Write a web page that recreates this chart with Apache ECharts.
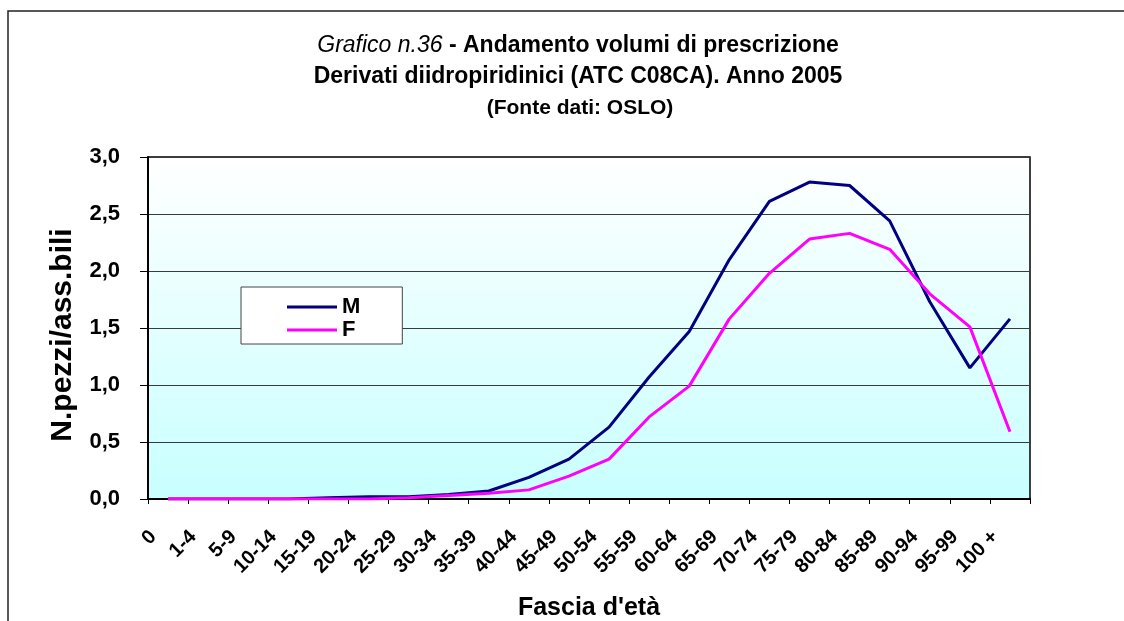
<!DOCTYPE html>
<html>
<head>
<meta charset="utf-8">
<script src="https://cdn.jsdelivr.net/npm/echarts@6/dist/echarts.min.js"></script>
<style>
  html, body { margin: 0; padding: 0; background: #fff; }
  #chart { width: 1124px; height: 621px; }
</style>
</head>
<body>
<div id="chart"></div>
<script>
// Age bands on the x axis
const ageBands = ['0', '1-4', '5-9', '10-14', '15-19', '20-24', '25-29', '30-34', '35-39',
  '40-44', '45-49', '50-54', '55-59', '60-64', '65-69', '70-74', '75-79', '80-84',
  '85-89', '90-94', '95-99', '100 +'];

// Prescription volumes (pieces per assisted person), males and females
const maleValues = [0.00, 0.00, 0.00, 0.00, 0.01, 0.02, 0.02, 0.04, 0.07,
  0.19, 0.35, 0.63, 1.07, 1.47, 2.10, 2.61, 2.78, 2.75, 2.44, 1.73, 1.15, 1.58];
const femaleValues = [0.00, 0.00, 0.00, 0.00, 0.00, 0.00, 0.01, 0.03, 0.05,
  0.08, 0.20, 0.35, 0.72, 0.99, 1.58, 1.98, 2.28, 2.33, 2.19, 1.80, 1.51, 0.59];

const seriesNames = ['M', 'F'];

const chart = echarts.init(document.getElementById('chart'));
const fontFamily = '"Liberation Sans", Arial, sans-serif';
const titleX = 578;

chart.setOption({
  animation: false,
  backgroundColor: '#ffffff',
  textStyle: { fontFamily: fontFamily },
  graphic: [
    {
      // outer frame of the chart sheet
      type: 'rect',
      shape: { x: 8, y: 11, width: 1130, height: 630 },
      style: { fill: 'none', stroke: '#222', lineWidth: 1.5 },
      silent: true
    },
    {
      // three-line chart heading
      type: 'text',
      x: titleX,
      y: 46,
      silent: true,
      style: {
        text: '{it|Grafico n.36}{b| - Andamento volumi di prescrizione}',
        align: 'center',
        verticalAlign: 'middle',
        rich: {
          it: { fontFamily: fontFamily, fontSize: 23, fontStyle: 'italic', fontWeight: 'normal', fill: '#000' },
          b: { fontFamily: fontFamily, fontSize: 23, fontWeight: 'bold', fill: '#000' }
        }
      }
    },
    {
      type: 'text',
      x: titleX,
      y: 77,
      silent: true,
      style: {
        text: 'Derivati diidropiridinici (ATC C08CA). Anno 2005',
        align: 'center',
        verticalAlign: 'middle',
        font: 'bold 23px ' + fontFamily,
        fill: '#000'
      }
    },
    {
      type: 'text',
      x: titleX + 2,
      y: 108,
      silent: true,
      style: {
        text: '(Fonte dati: OSLO)',
        align: 'center',
        verticalAlign: 'middle',
        font: 'bold 21px ' + fontFamily,
        fill: '#000'
      }
    }
  ],
  legend: {
    data: seriesNames,
    orient: 'vertical',
    left: 241,
    top: 287,
    backgroundColor: '#ffffff',
    borderColor: '#444',
    borderWidth: 1,
    padding: [9, 42, 3, 46],
    itemGap: 1,
    itemWidth: 50,
    itemHeight: 3,
    icon: 'rect',
    textStyle: { fontFamily: fontFamily, fontSize: 22, fontWeight: 'bold', color: '#000', lineHeight: 22 }
  },
  grid: {
    left: 148,
    right: 94,
    top: 157,
    bottom: 122,
    outerBoundsMode: 'none',
    containLabel: false,
    show: true,
    borderColor: '#000',
    borderWidth: 1.5,
    backgroundColor: {
      type: 'linear', x: 0, y: 0, x2: 0, y2: 1,
      colorStops: [
        { offset: 0, color: '#ffffff' },
        { offset: 1, color: '#c8ffff' }
      ]
    }
  },
  xAxis: {
    type: 'category',
    data: ageBands,
    boundaryGap: true,
    name: "Fascia d'età",
    nameLocation: 'middle',
    nameGap: 97,
    nameTextStyle: { fontFamily: fontFamily, fontSize: 25, fontWeight: 'bold', color: '#000' },
    axisLine: { show: true, lineStyle: { color: '#000', width: 2 } },
    axisTick: { show: true, alignWithLabel: false, length: 5, lineStyle: { color: '#000', width: 1 } },
    axisLabel: {
      interval: 0,
      rotate: 45,
      margin: 20,
      padding: [0, 21, 0, 0],
      fontFamily: fontFamily,
      fontSize: 20,
      fontWeight: 'bold',
      color: '#000'
    },
    splitLine: { show: false }
  },
  yAxis: {
    type: 'value',
    min: 0,
    max: 3,
    interval: 0.5,
    name: 'N.pezzi/ass.bili',
    nameLocation: 'middle',
    nameGap: 70,
    nameRotate: 90,
    nameTextStyle: { fontFamily: fontFamily, fontSize: 30, fontWeight: 'bold', color: '#000', padding: [0, 14, 0, 0] },
    axisLine: { show: true, lineStyle: { color: '#000', width: 2 } },
    axisTick: { show: true, inside: false, length: 8, lineStyle: { color: '#000', width: 1 } },
    axisLabel: {
      margin: 28,
      fontFamily: fontFamily,
      fontSize: 22,
      fontWeight: 'bold',
      color: '#000',
      formatter: function (v) { return v.toFixed(1).replace('.', ','); }
    },
    splitLine: { show: true, lineStyle: { color: '#3a3a3a', width: 1 } }
  },
  series: [
    {
      name: seriesNames[0],
      type: 'line',
      data: maleValues,
      symbol: 'none',
      lineStyle: { color: '#000080', width: 3 },
      itemStyle: { color: '#000080' },
      z: 3
    },
    {
      name: seriesNames[1],
      type: 'line',
      data: femaleValues,
      symbol: 'none',
      lineStyle: { color: '#ff00ff', width: 3 },
      itemStyle: { color: '#ff00ff' },
      z: 4
    }
  ]
});
</script>
</body>
</html>
